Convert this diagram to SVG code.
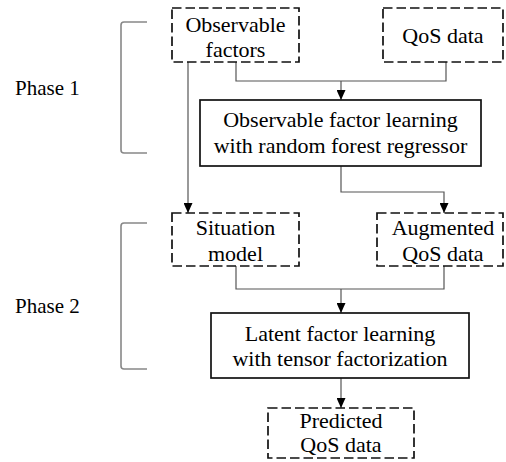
<svg xmlns="http://www.w3.org/2000/svg" width="506" height="462" viewBox="0 0 506 462">
<defs>
<marker id="arr" viewBox="0 0 10 10" refX="10" refY="5" markerWidth="10" markerHeight="9" markerUnits="userSpaceOnUse" orient="auto" preserveAspectRatio="none">
<path d="M0,0 L10,5 L0,10 z" fill="#000"/>
</marker>
</defs>
<style>
text{font-family:"Liberation Serif","Times New Roman",serif;font-size:22px;fill:#000;text-anchor:middle}
.lbl{text-anchor:start;font-size:21px}
.dash{fill:#fff;stroke:#111;stroke-width:1.7;stroke-dasharray:9.5 4}
.solid{fill:#fff;stroke:#111;stroke-width:1.7}
.con{fill:none;stroke:#555;stroke-width:1.2}
.br{fill:none;stroke:#888;stroke-width:1.6}
</style>
<rect width="506" height="462" fill="#fff"/>
<g id="phase1">
<path class="br" d="M147,22 L124,22 Q121,22 121,25 L121,150 Q121,153 124,153 L147,153"/>
<text class="lbl" x="15" y="95">Phase 1</text>
</g>
<g id="phase2">
<path class="br" d="M147,223 L124,223 Q121,223 121,226 L121,366 Q121,369 124,369 L147,369"/>
<text class="lbl" x="15" y="313">Phase 2</text>
</g>
<g id="connectors">
<path class="con" d="M236,62 L236,81 L446,81 L446,62"/>
<path class="con" d="M341,81 L341,100" marker-end="url(#arr)"/>
<path class="con" d="M188,62 L188,213" marker-end="url(#arr)"/>
<path class="con" d="M341,166 L341,192 L444,192 L444,213" marker-end="url(#arr)"/>
<path class="con" d="M236,266 L236,289 L444,289 L444,266"/>
<path class="con" d="M341,289 L341,313" marker-end="url(#arr)"/>
<path class="con" d="M341,378 L341,408" marker-end="url(#arr)"/>
</g>
<g id="observable-factors">
<rect class="dash" x="172" y="8" width="127" height="54"/>
<text x="235.5" y="32">Observable</text>
<text x="235.5" y="57">factors</text>
</g>
<g id="qos-data">
<rect class="dash" x="383" y="8" width="120" height="54"/>
<text x="443" y="43">QoS data</text>
</g>
<g id="observable-factor-learning">
<rect class="solid" x="200" y="100" width="281" height="66"/>
<text x="340.5" y="127">Observable factor learning</text>
<text x="340.5" y="153">with random forest regressor</text>
</g>
<g id="situation-model">
<rect class="dash" x="172" y="213" width="127" height="53"/>
<text x="235.5" y="235">Situation</text>
<text x="235.5" y="261">model</text>
</g>
<g id="augmented-qos-data">
<rect class="dash" x="377" y="213" width="126" height="53"/>
<text x="443" y="235">Augmented</text>
<text x="443" y="261">QoS data</text>
</g>
<g id="latent-factor-learning">
<rect class="solid" x="211" y="313" width="258" height="65"/>
<text x="340" y="341">Latent factor learning</text>
<text x="340" y="366">with tensor factorization</text>
</g>
<g id="predicted-qos-data">
<rect class="dash" x="268" y="408" width="146" height="50"/>
<text x="341" y="428">Predicted</text>
<text x="341" y="452">QoS data</text>
</g>
</svg>
